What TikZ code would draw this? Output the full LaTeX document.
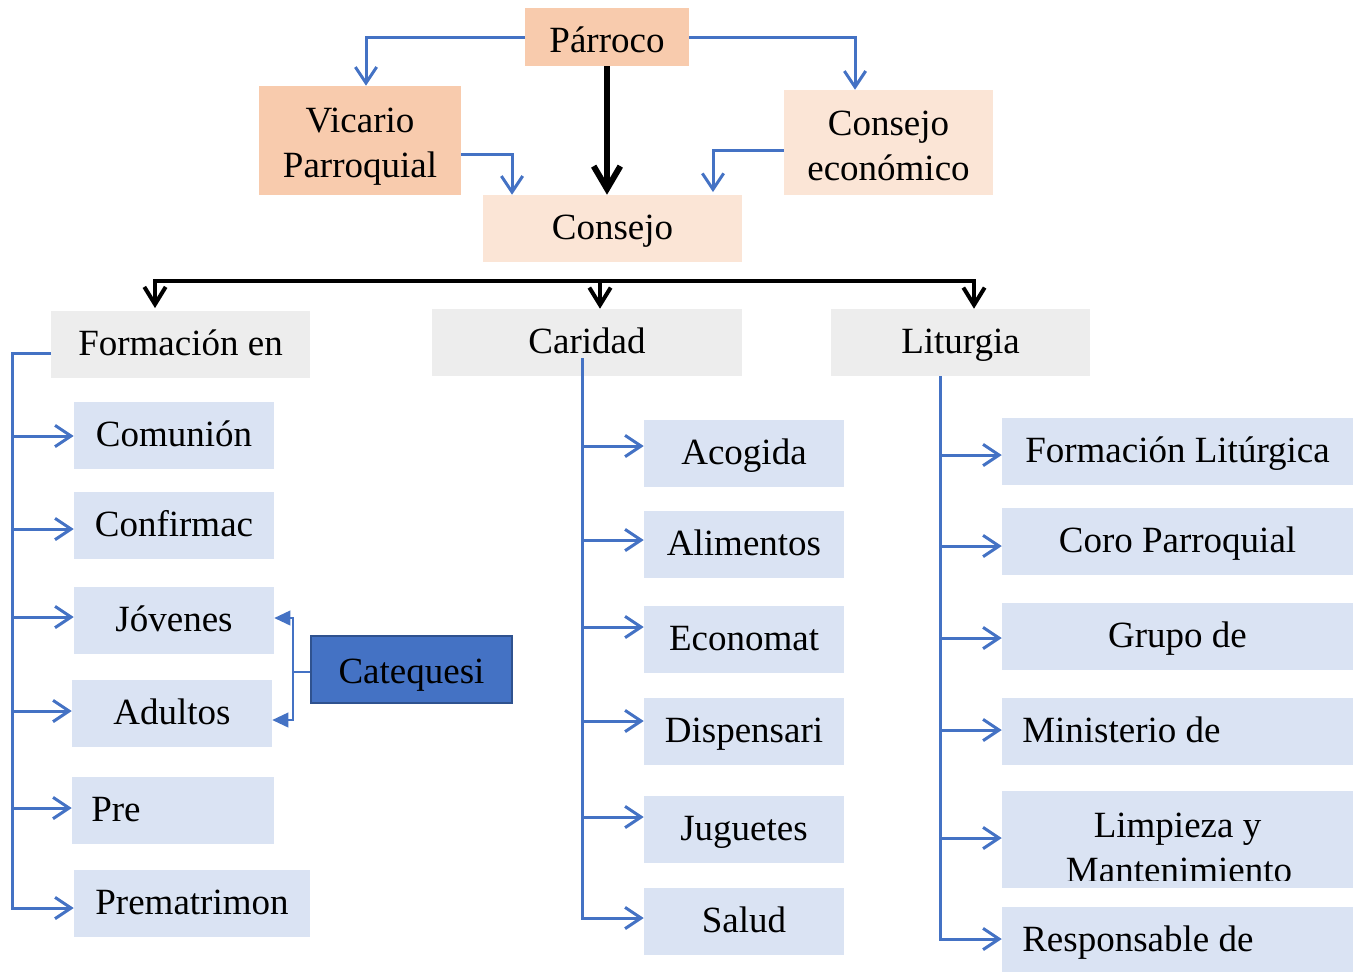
\documentclass[tikz,border=0pt]{standalone}
\usepackage{fontspec}
\setmainfont{Liberation Serif}
\usetikzlibrary{arrows.meta}
\definecolor{peach}{HTML}{F8CBAD}
\definecolor{lpeach}{HTML}{FBE5D6}
\definecolor{lgray}{HTML}{EDEDED}
\definecolor{lblue}{HTML}{DAE3F3}
\definecolor{mblue}{HTML}{4472C4}
\definecolor{dblue}{HTML}{2F528F}
\begin{document}
\begin{tikzpicture}[x=0.75pt,y=-0.75pt,
  txt/.style={inner sep=0pt, font=\fontsize{27.75}{33.75}\selectfont},
  box/.style 2 args={draw=none, minimum width=#1*0.75pt, minimum height=#2*0.75pt,
    inner sep=0pt, text height=22.5pt, text depth=6pt, font=\fontsize{27.75}{33.75}\selectfont},
  bline/.style={draw=mblue, line width=2.25pt},
  barrow/.style={bline, -{Straight Barb[length=12pt,width=16pt]}},
  karrow/.style={draw=black, line width=4.5pt, -{Straight Barb[length=17pt,width=20pt]}},
  kbus/.style={draw=black, line width=3pt},
  cat/.style={draw=mblue, line width=1.3pt, -{Triangle[length=12pt,width=11pt]}}]
\useasboundingbox (0,0) rectangle (1358,971);
\clip (0,0) rectangle (1358,971);

% top level
\node[box={164}{58}, fill=peach, text height=28.5pt] (parroco) at (607,37) {Párroco};
\node[box={202}{109}, fill=peach] (vicario) at (360,140.5) {};
\node[txt, anchor=base] (vic1) at (360,132) {Vicario};
\node[txt, anchor=base] (vic2) at (360,177) {Parroquial};
\node[box={209}{105}, fill=lpeach] (coneco) at (888.5,142.5) {};
\node[txt, anchor=base] (con1) at (888.5,135) {Consejo};
\node[txt, anchor=base] (con2) at (888.5,180) {económico};
\node[box={259}{67}, fill=lpeach] (consejo) at (612.5,228.5) {Consejo};

% second level
\node[box={259}{67}, fill=lgray] (formacion) at (180.5,344.5) {Formación en};
\node[box={310}{67}, fill=lgray] (caridad) at (587,342.5) {Caridad};
\node[box={259}{67}, fill=lgray] (liturgia) at (960.5,342.5) {Liturgia};

% left column
\node[box={200}{67}, fill=lblue] (comunion) at (174,435.5) {Comunión};
\node[box={200}{67}, fill=lblue] (confirmac) at (174,525.5) {Confirmac};
\node[box={200}{67}, fill=lblue] (jovenes) at (174,620.5) {Jóvenes};
\node[box={200}{67}, fill=lblue] (adultos) at (172,713.5) {Adultos};
\node[box={202}{67}, fill=lblue] (pre) at (173,810.5) {};
\node[txt, anchor=base west] (pretxt) at (91,821.5) {Pre};
\node[box={236}{67}, fill=lblue] (prematrimon) at (192,903.5) {Prematrimon};
\node[box={201}{67}, fill=mblue, draw=dblue, line width=1.8pt, text height=27pt] (catequesi) at (411.5,669.5) {Catequesi};

% middle column
\node[box={200}{67}, fill=lblue] (acogida) at (744,453.5) {Acogida};
\node[box={200}{67}, fill=lblue] (alimentos) at (744,544.5) {Alimentos};
\node[box={200}{67}, fill=lblue] (economat) at (744,639.5) {Economat};
\node[box={200}{67}, fill=lblue] (dispensari) at (744,731.5) {Dispensari};
\node[box={200}{67}, fill=lblue] (juguetes) at (744,829.5) {Juguetes};
\node[box={200}{67}, fill=lblue] (salud) at (744,921.5) {Salud};

% right column
\node[box={351}{67}, fill=lblue] (formlit) at (1177.5,451.5) {Formación Litúrgica};
\node[box={351}{67}, fill=lblue] (coro) at (1177.5,541.5) {Coro Parroquial};
\node[box={351}{67}, fill=lblue] (grupo) at (1177.5,636.5) {Grupo de};
\node[box={351}{67}, fill=lblue] (ministerio) at (1177.5,731.5) {};
\node[txt, anchor=base west] (mintxt) at (1022,742.5) {Ministerio de};
\node[box={351}{97}, fill=lblue] (limpieza) at (1177.5,839.5) {};
\begin{scope}
  \clip (1002,791) rectangle (1353,880);
  \node[txt, anchor=base] (lim1) at (1177.5,837) {Limpieza y};
  \node[txt, anchor=base] (lim2) at (1179,882) {Mantenimiento};
\end{scope}
\node[box={351}{67}, fill=lblue] (responsable) at (1177.5,940.5) {};
\node[txt, anchor=base west] (restxt) at (1022,951.5) {Responsable de};

% top connectors
\draw[barrow] (parroco.west) -| (vicario.north -| 366,0);
\draw[barrow] (parroco.east) -| (coneco.north -| 855,0);
\draw[barrow] (vicario.east |- 0,154) -| (consejo.north -| 512,0);
\draw[barrow] (coneco.west |- 0,150) -| ([yshift=2pt]consejo.north -| 713,0);
\draw[karrow] (parroco.south) -- (parroco.south |- consejo.north);

% black bus
\coordinate (busL) at (155,281);
\coordinate (busM) at (600,281);
\coordinate (busR) at (974,281);
\draw[kbus, {Straight Barb[length=13pt,width=16pt]}-{Straight Barb[length=13pt,width=16pt]}]
  ([yshift=2pt]busL |- formacion.north) -- (busL) -- (busR) -- (busR |- liturgia.north);
\draw[kbus, -{Straight Barb[length=13pt,width=16pt]}] (busM) -- (busM |- caridad.north);

% left spine
\coordinate (spL) at (12,353);
\draw[barrow] (formacion.west |- spL) -- (spL) |- (prematrimon.west |- 0,908);
\draw[barrow] (spL |- 0,436) -- (comunion.west |- 0,436);
\draw[barrow] (spL |- 0,529) -- (confirmac.west |- 0,529);
\draw[barrow] (spL |- 0,617) -- (jovenes.west |- 0,617);
\draw[barrow] (spL |- 0,711) -- (adultos.west |- 0,711);
\draw[barrow] (spL |- 0,808) -- (pre.west |- 0,808);

% catequesi bracket
\draw[cat] (catequesi.west |- 0,672) -- ++(-17,0) |- (jovenes.east |- 0,618);
\draw[cat] (catequesi.west |- 0,672) -- ++(-17,0) |- (adultos.east |- 0,720);

% middle spine
\coordinate (spM) at (582,358);
\draw[barrow] (spM) |- (salud.west |- 0,918);
\draw[barrow] (spM |- 0,446) -- (acogida.west |- 0,446);
\draw[barrow] (spM |- 0,540) -- (alimentos.west |- 0,540);
\draw[barrow] (spM |- 0,627) -- (economat.west |- 0,627);
\draw[barrow] (spM |- 0,721) -- (dispensari.west |- 0,721);
\draw[barrow] (spM |- 0,817) -- (juguetes.west |- 0,817);

% right spine
\coordinate (spR) at (940,377);
\draw[barrow] (liturgia.south -| spR) |- (responsable.west |- 0,939);
\draw[barrow] (spR |- 0,455) -- (formlit.west |- 0,455);
\draw[barrow] (spR |- 0,546) -- (coro.west |- 0,546);
\draw[barrow] (spR |- 0,638) -- (grupo.west |- 0,638);
\draw[barrow] (spR |- 0,730) -- (ministerio.west |- 0,730);
\draw[barrow] (spR |- 0,838) -- (limpieza.west |- 0,838);
\end{tikzpicture}
\end{document}
